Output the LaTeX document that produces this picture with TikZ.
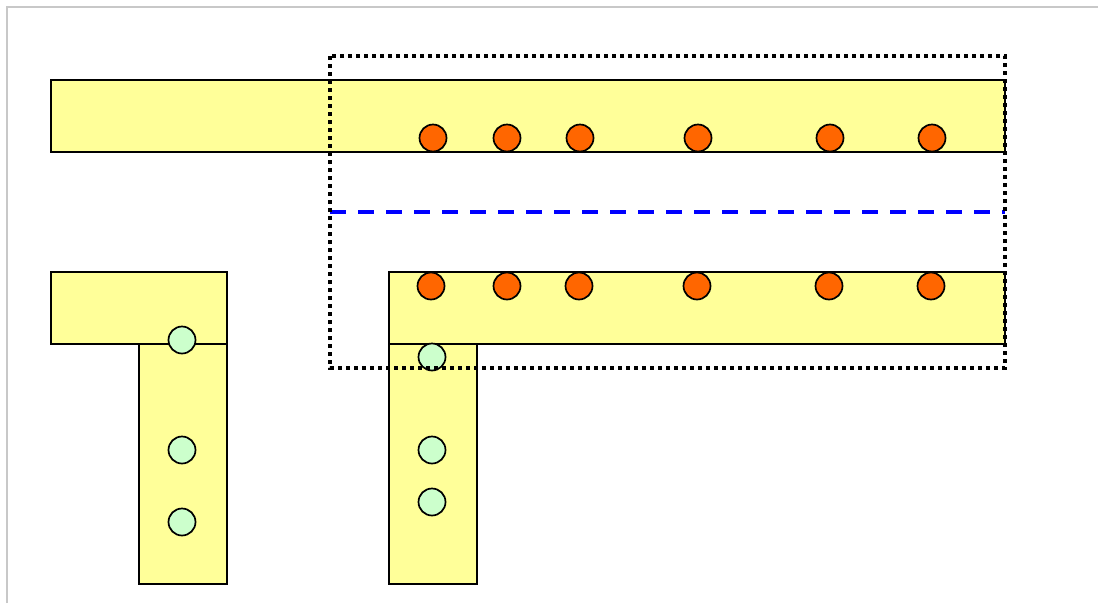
\documentclass[tikz,border=0pt]{standalone}
\usepackage{tikz}
\definecolor{barfill}{HTML}{FFFF99}
\definecolor{hot}{HTML}{FF6600}
\definecolor{cool}{HTML}{CCFFCC}
\definecolor{framegray}{HTML}{C8C8C8}
\tikzset{
  bar/.style={draw=black, fill=barfill, line width=1.7pt, anchor=north west,
    inner sep=0pt, outer sep=0pt, rectangle},
  hotdot/.style={draw=black, fill=hot, line width=1.7pt, circle, minimum size=27pt, inner sep=0pt},
  cooldot/.style={draw=black, fill=cool, line width=1.7pt, circle, minimum size=27pt, inner sep=0pt},
  divider/.style={draw=blue, line width=3.5pt, dash pattern=on 16pt off 12pt},
  zone/.style={draw=black, line width=3.5pt, dash pattern=on 4pt off 4pt, fill=none}
}
\begin{document}
\begin{tikzpicture}[x=1pt, y=-1pt]
\useasboundingbox (0,0) rectangle (1098,603);
% thin page frame
\draw[framegray, line width=1.5pt] (7,603) -- (7,7) -- (1098,7);

% top long bar
\node[bar, minimum width=954pt, minimum height=72pt] (topbar) at (51,80) {};
% left L-shape
\node[bar, minimum width=176pt, minimum height=72pt] (lhead) at (51,272) {};
\node[bar, minimum width=88pt, minimum height=240pt] (lstem) at (139,344) {};
% right L-shape
\node[bar, minimum width=616pt, minimum height=72pt] (rhead) at (389,272) {};
\node[bar, minimum width=88pt, minimum height=240pt] (rstem) at (389,344) {};

% orange markers, upper row
\foreach \i/\x in {1/433,2/507,3/580,4/698,5/830,6/932}
  \node[hotdot] (u\i) at (\x,138) {};
% orange markers, lower row
\foreach \i/\x in {1/431,2/507,3/579,4/697,5/829,6/931}
  \node[hotdot] (d\i) at (\x,286) {};

% green markers, left stem
\foreach \i/\y in {1/340,2/450,3/522}
  \node[cooldot] (l\i) at (182,\y) {};
% green markers, right stem
\foreach \i/\y in {1/357,2/450,3/502}
  \node[cooldot] (r\i) at (432,\y) {};

% dividing line and dotted zone
\coordinate (divL) at (330,212);
\coordinate (divR) at (1005,212);
\draw[divider] (divL) -- (divR);
\coordinate (zoneA) at (330,56);
\coordinate (zoneB) at (1005,368);
\draw[zone] (zoneA) rectangle (zoneB);
\end{tikzpicture}
\end{document}
